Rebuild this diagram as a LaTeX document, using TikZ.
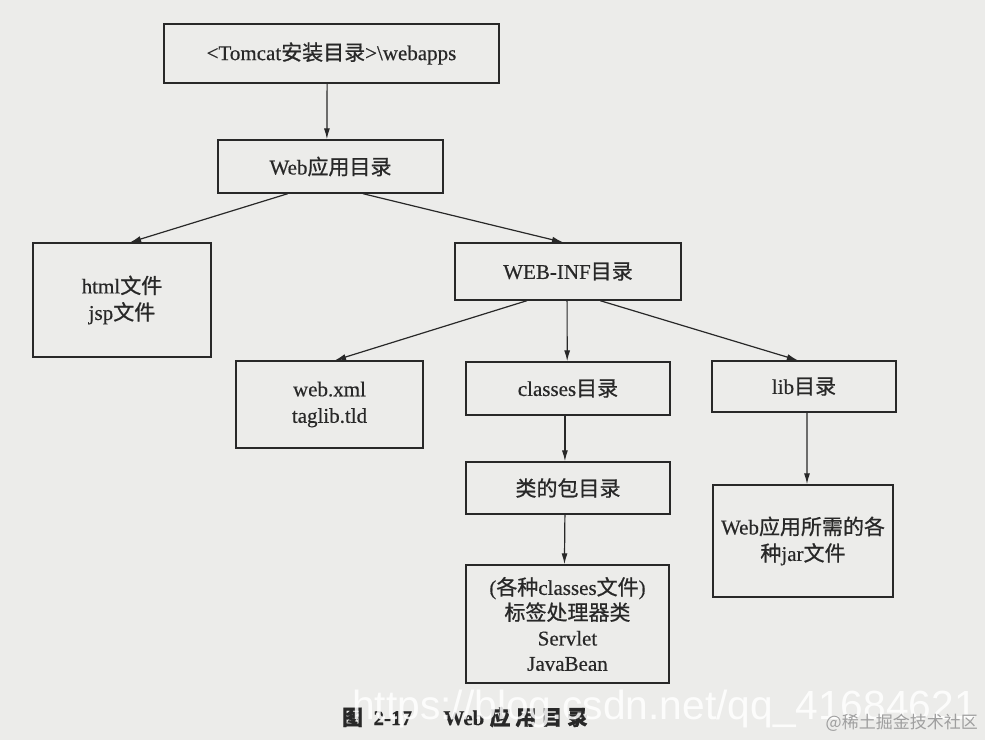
\documentclass[tikz,border=0pt]{standalone}
\usepackage{fontspec}
\setmainfont[FakeBold=0.4]{Liberation Serif}
\newfontfamily\cjk[FakeBold=0.8]{Noto Sans CJK SC}
\newfontfamily\cjkwm{Noto Sans CJK SC}
\newfontfamily\wmfont{Liberation Sans}
\usetikzlibrary{arrows.meta,calc}
\definecolor{ink}{RGB}{40,40,40}
\definecolor{paper}{RGB}{236,236,234}
\newcommand\zh[1]{{\cjk #1}}
\begin{document}
\begin{tikzpicture}[x=1pt,y=-1pt,
  box/.style={draw=ink,line width=1.4pt,rectangle,inner sep=0pt,align=center,text=ink,
    font=\fontsize{21}{26.5}\selectfont},
  arr/.style={draw=ink,line width=1.2pt,-{Latex[length=11pt,width=6pt]}}]
\fill[paper] (0,0) rectangle (985,740);
\useasboundingbox (0,0) rectangle (985,740);

\node[box,minimum width=335pt,minimum height=59pt] (tomcat) at (331.5,53.5)
  {<Tomcat\zh{安装目录}>\textbackslash webapps};
\node[box,minimum width=225pt,minimum height=53pt] (webapp) at (330.5,166.5)
  {Web\zh{应用目录}};
\node[box,minimum width=178pt,minimum height=114pt] (html) at (122,300)
  {html\zh{文件}\\jsp\zh{文件}};
\node[box,minimum width=226pt,minimum height=57pt] (webinf) at (568,271.5)
  {WEB-INF\zh{目录}};
\node[box,minimum width=187pt,minimum height=87pt] (webxml) at (329.5,404.5)
  {web.xml\\taglib.tld};
\node[box,minimum width=204pt,minimum height=53pt] (classes) at (568,388.5)
  {classes\zh{目录}};
\node[box,minimum width=184pt,minimum height=51pt] (lib) at (804,386.5)
  {lib\zh{目录}};
\node[box,minimum width=204pt,minimum height=52pt] (pkg) at (568,488)
  {\zh{类的包目录}};
\node[box,minimum width=180pt,minimum height=112pt] (jar) at (803,541)
  {Web\zh{应用所需的各}\\\zh{种}jar\zh{文件}};
\node[box,minimum width=203pt,minimum height=118pt,font=\fontsize{21}{25.3}\selectfont] (files) at (567.5,624)
  {(\zh{各种}classes\zh{文件})\\\zh{标签处理器类}\\Servlet\\JavaBean};

\draw[arr] ($(tomcat.south west)!0.487!(tomcat.south east)$) -- ($(webapp.north west)!0.484!(webapp.north east)$);
\draw[arr] ($(webapp.south west)!0.311!(webapp.south east)$) -- ($(html.north west)!0.545!(html.north east)$);
\draw[arr] ($(webapp.south west)!0.644!(webapp.south east)$) -- ($(webinf.north west)!0.478!(webinf.north east)$);
\draw[arr] ($(webinf.south west)!0.319!(webinf.south east)$) -- ($(webxml.north west)!0.529!(webxml.north east)$);
\draw[arr] ($(webinf.south west)!0.496!(webinf.south east)$) -- ($(classes.north west)!0.496!(classes.north east)$);
\draw[arr] ($(webinf.south west)!0.642!(webinf.south east)$) -- ($(lib.north west)!0.467!(lib.north east)$);
\draw[arr] ($(classes.south west)!0.485!(classes.south east)$) -- ($(pkg.north west)!0.485!(pkg.north east)$);
\draw[arr] ($(pkg.south west)!0.485!(pkg.south east)$) -- ($(files.north west)!0.485!(files.north east)$);
\draw[arr] ($(lib.south west)!0.516!(lib.south east)$) -- ($(jar.north west)!0.522!(jar.north east)$);

\node[text=ink,font=\bfseries\fontsize{21}{24}\selectfont] (cap) at (465,717)
  {\zh{图}\ \ 2-17\quad\ \ Web\ \zh{应\ 用\ 目\ 录}};

\node[anchor=base west,inner sep=0pt,text=white,opacity=0.85,font=\wmfont\fontsize{40.7}{44}\selectfont] (wm) at (352,719)
  {https://blog.csdn.net/qq\_41684621};
\node[anchor=east,inner sep=0pt,text=gray!75,font=\cjkwm\fontsize{17}{20}\selectfont] (wm2) at (978,723)
  {@稀土掘金技术社区};
\end{tikzpicture}
\end{document}
